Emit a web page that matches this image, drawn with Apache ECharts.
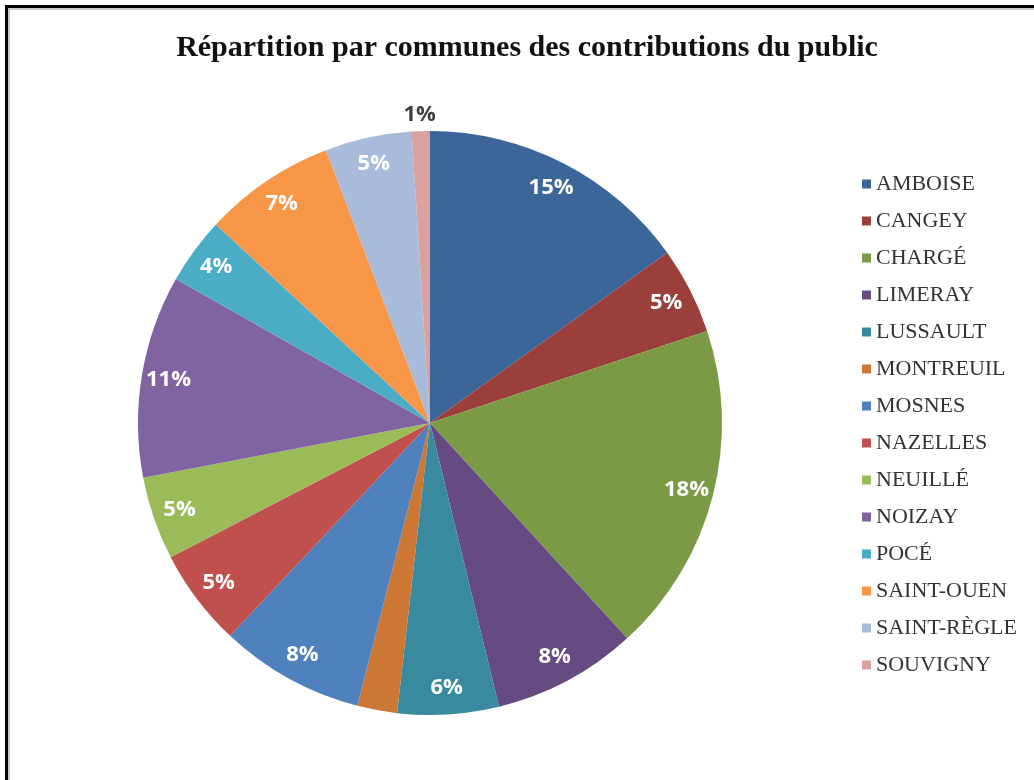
<!DOCTYPE html>
<html>
<head>
<meta charset="utf-8">
<script src="https://cdn.jsdelivr.net/npm/echarts@6/dist/echarts.min.js"></script>
<style>
  html, body { margin: 0; padding: 0; background: #fff; overflow: hidden; }
  #chart { position: absolute; left: 0; top: 0; width: 1034px; height: 780px; }
  /* frame around the chart area: dark edge plus a soft grey inner line */
  #frame {
    position: absolute; left: 5px; top: 5px; width: 1100px; height: 900px;
    border-left: 3px solid #000; border-top: 3px solid #000;
    box-shadow: inset 2px 2px 0 #c8c8c8;
    pointer-events: none;
  }
</style>
</head>
<body>
<div id="chart"></div>
<div id="frame"></div>
<script>
// Share of public contributions per commune (percent)
const communes = ['AMBOISE', 'CANGEY', 'CHARGÉ', 'LIMERAY', 'LUSSAULT', 'MONTREUIL', 'MOSNES',
  'NAZELLES', 'NEUILLÉ', 'NOIZAY', 'POCÉ', 'SAINT-OUEN', 'SAINT-RÈGLE', 'SOUVIGNY'];
const shares = [15.1, 4.8, 18.3, 8.0, 5.6, 2.2, 8.0, 5.4, 4.6, 11.2, 3.7, 7.3, 4.8, 1.0];
const colors = ['#3C6599', '#9A3F3C', '#7A9A45', '#664B83', '#398A9F', '#CC7733', '#4F81BD',
  '#C0504D', '#9BBB59', '#8064A2', '#4BACC6', '#F79646', '#A9BBDA', '#D9A0A0'];

const chart = echarts.init(document.getElementById('chart'), null, { renderer: 'canvas' });

const pieData = communes.map((name, i) => ({ name, value: shares[i], itemStyle: { color: colors[i] } }));

// label layer: an invisible pie whose half-radius sits near the rim of the visible pie
const labelData = communes.map((name, i) => {
  const item = { name, value: shares[i], itemStyle: { color: 'rgba(0,0,0,0)' } };
  if (name === 'MONTREUIL') item.label = { show: false };
  if (name === 'SOUVIGNY') item.label = { color: '#404040' };
  return item;
});

chart.setOption({
  animation: false,
  title: {
    text: 'Répartition par communes des contributions du public',
    left: 522, top: 28, textAlign: 'center',
    textStyle: { fontFamily: 'Liberation Serif', fontWeight: 'bold', fontSize: 30, color: '#111' }
  },
  legend: {
    orient: 'vertical',
    left: 857, top: 168,
    data: communes,
    icon: 'rect',
    itemWidth: 9, itemHeight: 9, itemGap: 15,
    selectedMode: false,
    textStyle: { fontFamily: 'Liberation Serif', fontSize: 22, lineHeight: 22, color: '#333' }
  },
  series: [
    {
      type: 'pie',
      center: [430, 423],
      radius: [0, 292],
      startAngle: 90,
      clockwise: true,
      silent: true,
      label: { show: false },
      labelLine: { show: false },
      itemStyle: { borderWidth: 0 },
      data: pieData
    },
    {
      type: 'pie',
      center: [430, 423],
      radius: [0, 524],
      startAngle: 90,
      clockwise: true,
      silent: true,
      legendHoverLink: false,
      itemStyle: { borderWidth: 0 },
      labelLine: { show: false },
      label: {
        show: true,
        position: 'inside',
        formatter: p => Math.round(p.percent) + '%',
        fontFamily: 'Open Sans', fontWeight: 'bold', fontSize: 22, color: '#fff'
      },
      labelLayout: p => (p.dataIndex === communes.indexOf('SOUVIGNY') ? { dx: -2, dy: -43 } : {}),
      data: labelData
    }
  ]
});
</script>
</body>
</html>
